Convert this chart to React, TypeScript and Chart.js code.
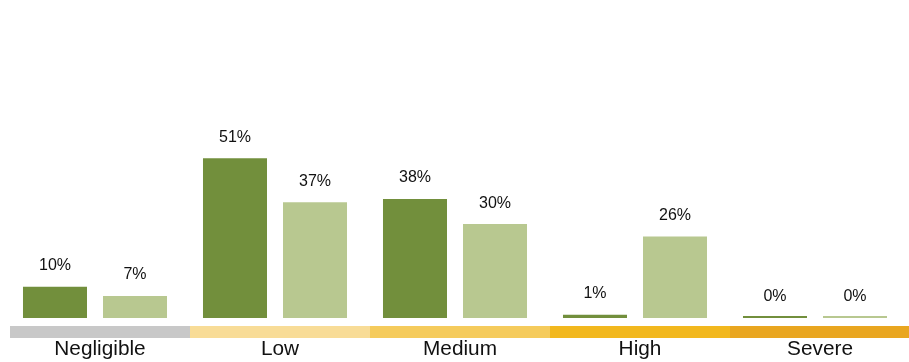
import React, { useEffect, useRef } from "react";
import { Chart, registerables } from "chart.js";

Chart.register(...registerables);

const categories = ["Negligible", "Low", "Medium", "High", "Severe"];
const seriesA = [10, 51, 38, 1, 0];
const seriesB = [7, 37, 30, 26, 0];
const bandColors = ["#c8c8c8", "#f8dc97", "#f5cb5c", "#f2b81e", "#e9a620"];

const overlay = {
  id: "overlay",
  afterDatasetsDraw(chart: any) {
    const ctx = chart.ctx;
    const x = chart.scales.x;
    const area = chart.chartArea;
    ctx.save();
    // value labels
    ctx.font = "16px 'Liberation Sans', Arial, sans-serif";
    ctx.fillStyle = "#111111";
    ctx.textAlign = "center";
    ctx.textBaseline = "middle";
    chart.data.datasets.forEach((ds: any, di: number) => {
      const meta = chart.getDatasetMeta(di);
      meta.data.forEach((bar: any, i: number) => {
        const v = ds.data[i];
        const yTop = chart.scales.y.getPixelForValue(v);
        ctx.fillText(v + "%", bar.x, yTop - 21);
      });
    });
    // band + category labels
    const shift = 5;
    ctx.font = "20.8px 'Liberation Sans', Arial, sans-serif";
    categories.forEach((c, i) => {
      const cx = x.getPixelForValue(i) + shift;
      const w = x.width / categories.length;
      ctx.fillStyle = bandColors[i];
      ctx.fillRect(cx - w / 2, area.bottom + 8, w, 12);
      ctx.fillStyle = "#111111";
      ctx.fillText(c, cx, area.bottom + 31);
    });
    ctx.restore();
  },
};

export default function App() {
  const ref = useRef<HTMLCanvasElement>(null);
  useEffect(() => {
    const chart = new Chart(ref.current!, {
      type: "bar",
      data: {
        labels: categories,
        datasets: [
          {
            data: seriesA,
            backgroundColor: "#728f3c",
            categoryPercentage: 0.889,
            barPercentage: 0.8,
            minBarLength: 2,
          },
          {
            data: seriesB,
            backgroundColor: "#b8c890",
            categoryPercentage: 0.889,
            barPercentage: 0.8,
            minBarLength: 2,
          },
        ],
      },
      options: {
        animation: false,
        responsive: false,
        maintainAspectRatio: false,
        layout: { padding: { left: 5, right: 4, top: 5, bottom: 44 } },
        plugins: { legend: { display: false }, tooltip: { enabled: false } },
        scales: {
          x: { display: false, grid: { display: false } },
          y: { display: false, min: 0, max: 100, grid: { display: false } },
        },
      },
      plugins: [overlay],
    });
    return () => chart.destroy();
  }, []);
  return (
    <div style={{ position: "fixed", left: 0, top: 0, width: 909, height: 362, background: "#fff" }}>
      <canvas ref={ref} width={909} height={362} style={{ width: 909, height: 362 }} />
    </div>
  );
}
